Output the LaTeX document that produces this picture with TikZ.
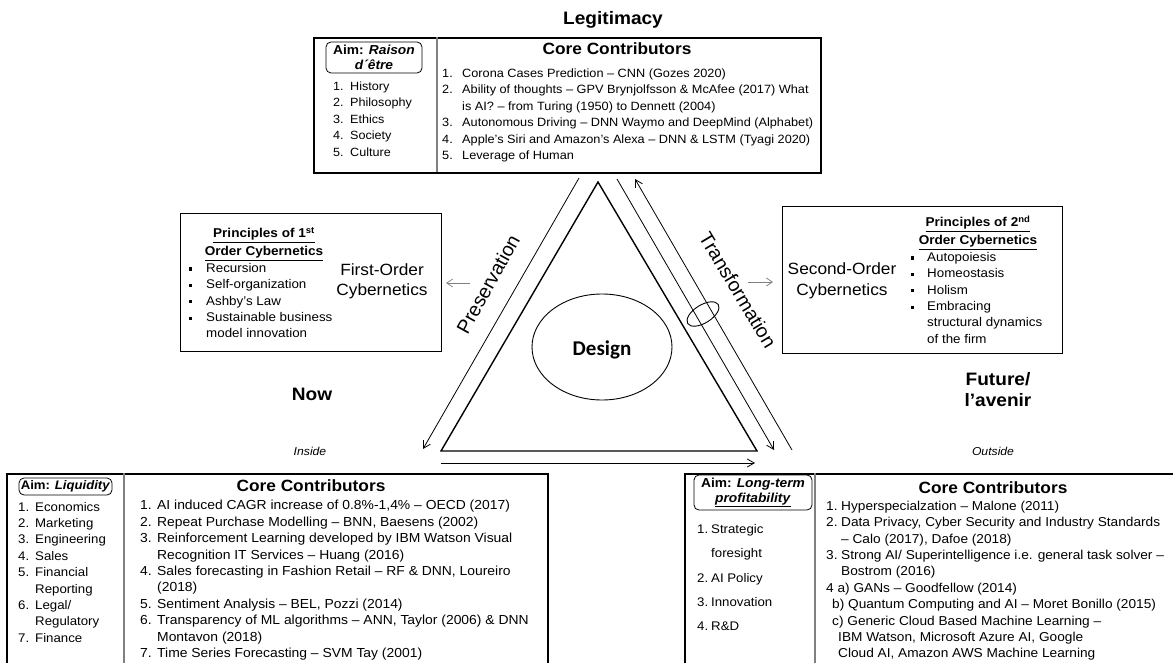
\documentclass[tikz,border=0pt]{standalone}
\usepackage{fontspec}
\setmainfont{Liberation Sans}[FakeStretch=1.06]
\newfontfamily\plainsans{Liberation Sans}
\newfontfamily\designfont{Carlito}
\usepackage{array}
\usetikzlibrary{arrows.meta,shapes.geometric}

\newcommand{\fsz}[1]{\fontsize{#1}{16.4}\selectfont}
\newcommand{\widefs}{\fontsize{12.5}{24.3}\selectfont}
\newcommand{\sqbul}{\rule[1.8pt]{3.2pt}{3.2pt}}

\tikzset{
  frame/.style={draw, line width=1.7pt, inner sep=0pt, anchor=north west},
  midframe/.style={draw, line width=1.4pt, inner sep=0pt, anchor=north west},
  aimbox/.style={draw, line width=0.8pt, rounded corners=5pt, inner sep=0pt,
    align=center, font=\fontsize{13}{15}\selectfont\bfseries},
  txt/.style={inner sep=0pt, anchor=north west, align=left},
  headline/.style={inner sep=0pt, anchor=base, font=\fontsize{18}{21}\selectfont\bfseries},
  cc/.style={inner sep=0pt, anchor=base, font=\fontsize{16.3}{19}\selectfont\bfseries},
  order/.style={inner sep=0pt, anchor=base, font=\fontsize{16.3}{19}\selectfont},
  princ/.style={inner sep=0pt, anchor=base, font=\fontsize{12.8}{14}\selectfont\bfseries},
  side/.style={inner sep=0pt, font=\plainsans\fontsize{19.5}{22}\selectfont},
  place/.style={inner sep=0pt, anchor=base, font=\fontsize{11.5}{14}\selectfont\itshape},
  divider/.style={draw=gray, line width=1.1pt},
  flow/.style={line width=0.8pt, -{Straight Barb[length=7pt,width=8pt]}},
  hint/.style={draw=gray, line width=0.7pt, -{Straight Barb[length=6pt,width=8pt]}}
}

\begin{document}
\begin{tikzpicture}[x=1pt,y=-1pt]
\useasboundingbox (0,0) rectangle (1173,663);
\clip (0,0) rectangle (1173,663);

% ---------- headings ----------
\node[headline] (legit) at (613,25) {Legitimacy};
\node[headline] (now) at (312,400) {Now};
\node[headline, align=center, anchor=north] (future) at (998,372)
  {\fontsize{18}{20}\selectfont Future/\\ l’avenir};
\node[place] (inside) at (310,455) {Inside};
\node[place] (outside) at (993,455) {Outside};

% ---------- top box: Raison d'etre ----------
\node[frame, minimum width=507pt, minimum height=135pt] (topbox) at (313,37) {};
\draw[divider] (437,37) -- (437,172);
\node[aimbox, minimum width=96pt, minimum height=31pt] (aimtop) at (374,57.5)
  {Aim: \textit{Raison}\\ \textit{d´être}};
\node[txt, font=\fsz{11.9}] (toplist) at (333,78.8) {%
  \begin{tabular}{@{}p{17pt}@{}l@{}}
  1. & History\\ 2. & Philosophy\\ 3. & Ethics\\ 4. & Society\\ 5. & Culture
  \end{tabular}};
\node[cc] (topcc) at (617,55) {Core Contributors};
\node[txt, font=\fsz{12}] (topcore) at (442,65.8) {%
  \begin{tabular}{@{}p{20pt}@{}l@{}}
  1. & Corona Cases Prediction – CNN (Gozes 2020)\\
  2. & Ability of thoughts – GPV Brynjolfsson \& McAfee (2017) What\\
     & is AI? – from Turing (1950) to Dennett (2004)\\
  3. & Autonomous Driving – DNN Waymo and DeepMind (Alphabet)\\
  4. & Apple’s Siri and Amazon’s Alexa – DNN \& LSTM (Tyagi 2020)\\
  5. & Leverage of Human
  \end{tabular}};

% ---------- first-order cybernetics ----------
\node[midframe, minimum width=261pt, minimum height=138pt] (firstbox) at (180,213) {};
\node[princ] (p1a) at (264,238) {\underline{Principles of 1\textsuperscript{st}}};
\node[princ] (p1b) at (264,256) {\underline{Order Cybernetics}};
\node[txt, font=\fsz{12.6}] (firstlist) at (189,260.7) {%
  \begin{tabular}{@{}p{17pt}@{}l@{}}
  \sqbul & Recursion\\ \sqbul & Self-organization\\ \sqbul & Ashby’s Law\\
  \sqbul & Sustainable business\\ & model innovation
  \end{tabular}};
\node[order] (fo1) at (382,276) {First-Order};
\node[order] (fo2) at (382,295) {Cybernetics};

% ---------- second-order cybernetics ----------
\node[midframe, minimum width=280pt, minimum height=147pt] (secondbox) at (782,206) {};
\node[order] (so1) at (842,275) {Second-Order};
\node[order] (so2) at (842,295) {Cybernetics};
\node[princ] (p2a) at (978,227) {\underline{Principles of 2\textsuperscript{nd}}};
\node[princ] (p2b) at (978,245) {\underline{Order Cybernetics}};
\node[txt, font=\fsz{12.6}] (secondlist) at (911,249.7) {%
  \begin{tabular}{@{}p{16pt}@{}l@{}}
  \sqbul & Autopoiesis\\ \sqbul & Homeostasis\\ \sqbul & Holism\\
  \sqbul & Embracing\\ & structural dynamics\\ & of the firm
  \end{tabular}};

% ---------- bottom left box: Liquidity ----------
\node[frame, minimum width=541pt, minimum height=220pt] (leftbox) at (6,473) {};
\draw[divider] (124,473) -- (124,680);
\node[aimbox, font=\fontsize{12.4}{14}\selectfont\bfseries, minimum width=93pt,
  minimum height=17pt] (aimleft) at (65.5,486.5) {Aim: \textit{Liquidity}};
\node[txt, font=\fsz{12.5}] (leftlist) at (18,499.5) {%
  \begin{tabular}{@{}p{17pt}@{}l@{}}
  1. & Economics\\ 2. & Marketing\\ 3. & Engineering\\ 4. & Sales\\
  5. & Financial\\ & Reporting\\ 6. & Legal/\\ & Regulatory\\ 7. & Finance
  \end{tabular}};
\node[cc] (leftcc) at (311,491) {Core Contributors};
\node[txt, font=\fsz{13.1}] (leftcore) at (140,498.2) {%
  \begin{tabular}{@{}p{17pt}@{}l@{}}
  1. & AI induced CAGR increase of 0.8\%-1,4\% – OECD (2017)\\
  2. & Repeat Purchase Modelling – BNN, Baesens (2002)\\
  3. & Reinforcement Learning developed by IBM Watson Visual\\
     & Recognition IT Services – Huang (2016)\\
  4. & Sales forecasting in Fashion Retail – RF \& DNN, Loureiro\\
     & (2018)\\
  5. & Sentiment Analysis – BEL, Pozzi (2014)\\
  6. & Transparency of ML algorithms – ANN, Taylor (2006) \& DNN\\
     & Montavon (2018)\\
  7. & Time Series Forecasting – SVM Tay (2001)
  \end{tabular}};

% ---------- bottom right box: long-term profitability ----------
\node[frame, minimum width=520pt, minimum height=220pt] (rightbox) at (684,473) {};
\draw[divider] (815,473) -- (815,680);
\node[aimbox, minimum width=118pt, minimum height=35pt] (aimright) at (753,492.5)
  {Aim: \textit{Long-term}\\ \underline{\textit{profitability}}};
\node[txt, font=\widefs] (rightlist) at (697,516.3) {%
  \begin{tabular}{@{}p{14pt}@{}l@{}}
  1. & Strategic\\ & foresight\\ 2. & AI Policy\\ 3. & Innovation\\ 4. & R\&D
  \end{tabular}};
\node[cc] (rightcc) at (993,493) {Core Contributors};
\node[txt, font=\fsz{12.9}] (rightcore) at (826,498.7) {%
  \begin{tabular}{@{}p{15pt}@{}l@{}}
  1. & Hyperspecialzation – Malone (2011)\\
  2. & Data Privacy, Cyber Security and Industry Standards\\
     & – Calo (2017), Dafoe (2018)\\
  3. & Strong AI/ Superintelligence i.e. general task solver –\\
     & Bostrom (2016)\\
  \multicolumn{2}{@{}l@{}}{4 a) GANs – Goodfellow (2014)}\\
  \multicolumn{2}{@{}l@{}}{\hspace{6pt}b) Quantum Computing and AI – Moret Bonillo (2015)}\\
  \multicolumn{2}{@{}l@{}}{\hspace{6pt}c) Generic Cloud Based Machine Learning –}\\
  \multicolumn{2}{@{}l@{}}{\hspace{12pt}IBM Watson, Microsoft Azure AI, Google}\\
  \multicolumn{2}{@{}l@{}}{\hspace{12pt}Cloud AI, Amazon AWS Machine Learning}
  \end{tabular}};

% ---------- design triangle ----------
\coordinate (apex) at (598,182);
\coordinate (baseL) at (441,451);
\coordinate (baseR) at (757,451);
\draw[line width=1.4pt, line join=miter] (apex) -- (baseL) -- (baseR) -- cycle;
\node[draw, ellipse, line width=0.9pt, minimum width=140pt, minimum height=106pt,
  inner sep=0pt] (design) at (602,347) {};
\node[inner sep=0pt, anchor=base, font=\designfont\fontsize{21}{24}\selectfont\bfseries]
  (designlbl) at (602,355) {Design};

% preservation side
\coordinate (presA) at (579,178);
\coordinate (presB) at (423,449);
\draw[flow] (presA) -- (presB);
\node[side, rotate=61] (preslbl) at (488,284) {Preservation};

% transformation side: two opposing lines bound by a loop
\coordinate (trA) at (617,179);
\coordinate (trB) at (774,450);
\coordinate (trC) at (792,450);
\coordinate (trD) at (635,179);
\draw[flow] (trA) -- (trB);
\draw[flow] (trC) -- (trD);
\draw[line width=0.9pt, rotate around={32:(703,314)}] (703,314) ellipse [x radius=18, y radius=9];
\node[side, rotate=-59] (trlbl) at (738,290) {Transformation};

% base: now to future
\coordinate (baseA) at (441,463);
\coordinate (baseB) at (755,463);
\draw[flow] (baseA) -- (baseB);

% pointers to the cybernetics boxes
\coordinate (hintL1) at (470,283);
\coordinate (hintL2) at (446,283);
\coordinate (hintR1) at (748,282);
\coordinate (hintR2) at (773,282);
\draw[hint] (hintL1) -- (hintL2);
\draw[hint] (hintR1) -- (hintR2);
\end{tikzpicture}
\end{document}
